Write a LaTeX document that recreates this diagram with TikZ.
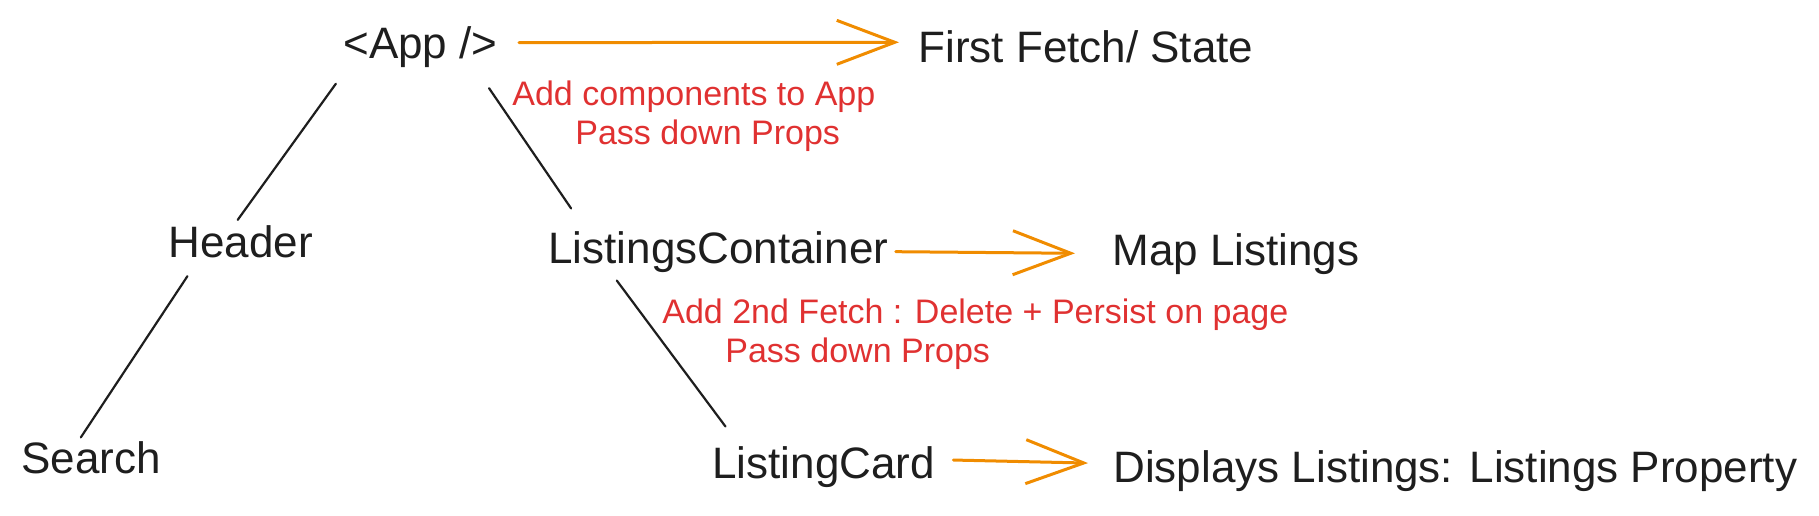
\documentclass[tikz,border=0pt]{standalone}
\usepackage{fontspec}
\setmainfont{Liberation Sans}
\usetikzlibrary{arrows.meta}
\definecolor{inkblack}{HTML}{1E1E1E}
\definecolor{inkred}{HTML}{E03131}
\definecolor{inkorange}{HTML}{F08C00}

\begin{document}
\begin{tikzpicture}[x=0.5pt, y=-0.5pt, comp/.style={anchor=base west, inner sep=0pt, text=inkblack, font=\fontsize{22}{26}\selectfont}, note/.style={anchor=north west, inner sep=0pt, align=left, text=inkred, font=\fontsize{17}{19.5}\selectfont}, link/.style={draw=inkblack, line width=1.1pt, line cap=round}, flow/.style={->, draw=inkorange, line width=1.5pt, line cap=round}, >={Straight Barb[length=29pt, width=22pt]}]
	\useasboundingbox (0,0) rectangle (1819,515);

	% Nodes
	\node[comp] (app) at (343,58) {<App />};
	\node[comp] (first) at (918,62) {First Fetch/ State};
	\node[comp] (header) at (168,257) {Header};
	\node[comp] (lc) at (548,263) {ListingsContainer};
	\node[comp] (map) at (1112,265) {Map Listings};
	\node[comp] (search) at (21,473) {Search};
	\node[comp] (card) at (712,478) {ListingCard};
	\node[comp] (disp) at (1113,482) {Displays Listings: Listings Property};

	% Notes
	\node[note] (appnote) at (512,80) {Add components to App\\\hspace*{31.5pt}Pass down Props};
	\node[note] (lcnote) at (662,298) {Add 2nd Fetch : Delete + Persist on page\\\hspace*{31.5pt}Pass down Props};

	% Tree lines
	\draw[link, shorten <=10pt, shorten >=3pt] (app.196) -- (header.111);
	\draw[link, shorten <=11pt, shorten >=2pt] (header.202) -- (search.127);
	\draw[link, shorten <=12.5pt, shorten >=13.5pt] (app.339) -- (lc.171);
	\draw[link, shorten <=5pt, shorten >=12pt] (lc.191) -- (card.166);

	% Flow arrows
	\draw[flow, shorten <=10.5pt, shorten >=9.5pt] ([yshift=2pt]app.east) -- ([yshift=2pt]first.west);
	\draw[flow, shorten <=3.5pt, shorten >=18.5pt] (lc.east) -- (map.west);
	\draw[flow, shorten <=9pt, shorten >=12.5pt] ([yshift=3.5pt]card.east) -- ([yshift=3.5pt]disp.west);
\end{tikzpicture}
\end{document}
